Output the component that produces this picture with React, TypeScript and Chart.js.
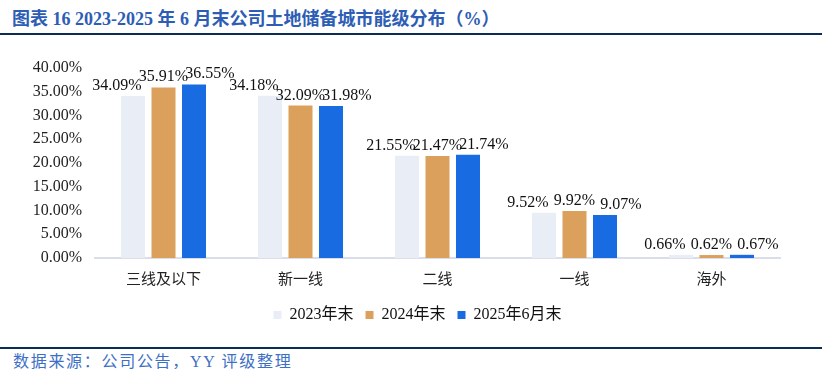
import React, { useEffect, useRef } from "react";
import { Chart, registerables } from "chart.js";

Chart.register(...registerables);

const categories = ["三线及以下", "新一线", "二线", "一线", "海外"];
const seriesNames = ["2023年末", "2024年末", "2025年6月末"];
const values2023 = [34.09, 34.18, 21.55, 9.52, 0.66];
const values2024 = [35.91, 32.09, 21.47, 9.92, 0.62];
const values2025 = [36.55, 31.98, 21.74, 9.07, 0.67];
const seriesColors = ["#E9EDF6", "#DBA05B", "#186BE1"];
const yMin = 0;
const yMax = 40;
const yStep = 5;

const titleText = "图表 16 2023-2025 年 6 月末公司土地储备城市能级分布（%）";
const sourceText = "数据来源：公司公告，YY 评级整理";

const FONT = '"Times New Roman", "Liberation Serif", "Noto Sans CJK SC", serif';

const labelPlugin = {
  id: "barLabels",
  afterDatasetsDraw(chart: any) {
    const ctx = chart.ctx;
    ctx.save();
    ctx.font = `16px ${FONT}`;
    ctx.fillStyle = "#111111";
    ctx.textAlign = "center";
    ctx.textBaseline = "alphabetic";
    chart.data.datasets.forEach((ds: any, di: number) => {
      const meta = chart.getDatasetMeta(di);
      meta.data.forEach((bar: any, i: number) => {
        const v = ds.data[i] as number;
        ctx.fillText(v.toFixed(2) + "%", bar.x + (di - 1) * 16, bar.y - 6);
      });
    });
    ctx.restore();
  },
};

function BarChart() {
  const ref = useRef<HTMLCanvasElement | null>(null);
  useEffect(() => {
    if (!ref.current) return;
    const chart = new Chart(ref.current, {
      type: "bar",
      data: {
        labels: categories,
        datasets: [values2023, values2024, values2025].map((d, i) => ({
          label: seriesNames[i],
          data: d,
          backgroundColor: seriesColors[i],
          borderWidth: 0,
          categoryPercentage: 0.668,
          barPercentage: 0.787,
        })),
      },
      options: {
        responsive: false,
        animation: false,
        layout: { padding: { left: 0, right: 0, top: 28, bottom: 7 } },
        plugins: {
          tooltip: { enabled: false },
          legend: {
            position: "bottom",
            labels: {
              boxWidth: 8,
              boxHeight: 8,
              padding: 12,
              color: "#111111",
              font: { family: FONT, size: 16 },
            },
          },
        },
        scales: {
          x: {
            grid: { display: false, drawTicks: false },
            border: { display: true, color: "#D9DEEA", width: 2 },
            ticks: {
              color: "#222222",
              padding: 13,
              font: { family: FONT, size: 15 },
            },
            afterFit: (s: any) => {
              s.height = 37;
            },
          },
          y: {
            min: yMin,
            max: yMax,
            grid: { display: false, drawTicks: false },
            border: { display: false },
            ticks: {
              stepSize: yStep,
              color: "#222222",
              padding: 13,
              font: { family: FONT, size: 16 },
              callback: (v: any) => Number(v).toFixed(2) + "%",
            },
            afterFit: (s: any) => {
              s.width = 95;
            },
          },
          y2: {
            position: "right",
            display: true,
            grid: { display: false, drawTicks: false },
            border: { display: false },
            ticks: { display: false },
            afterFit: (s: any) => {
              s.width = 55;
            },
          },
        },
      },
      plugins: [labelPlugin],
    } as any);
    return () => chart.destroy();
  }, []);
  return (
    <canvas
      ref={ref}
      width={835}
      height={300}
      style={{ position: "absolute", left: 0, top: 40, width: 835, height: 300 }}
    />
  );
}

export default function App() {
  return (
    <div
      style={{
        position: "absolute",
        left: 0,
        top: 0,
        width: 835,
        height: 369,
        background: "#ffffff",
        overflow: "hidden",
      }}
    >
      <div
        style={{
          position: "absolute",
          left: 12,
          top: 8,
          fontFamily: FONT,
          fontWeight: "bold",
          fontSize: 18,
          lineHeight: "22px",
          color: "#2D5DB5",
          whiteSpace: "nowrap",
        }}
      >
        {titleText}
      </div>
      <div
        style={{
          position: "absolute",
          left: 0,
          top: 33,
          width: 822,
          height: 2,
          background: "#0B2D55",
        }}
      />
      <BarChart />
      <div
        style={{
          position: "absolute",
          left: 0,
          top: 347,
          width: 822,
          height: 2,
          background: "#0B2D55",
        }}
      />
      <div
        style={{
          position: "absolute",
          left: 13,
          top: 352,
          fontFamily: FONT,
          fontSize: 16,
          lineHeight: "20px",
          letterSpacing: 1.7,
          color: "#3D6FC4",
          whiteSpace: "nowrap",
        }}
      >
        {sourceText}
      </div>
    </div>
  );
}
